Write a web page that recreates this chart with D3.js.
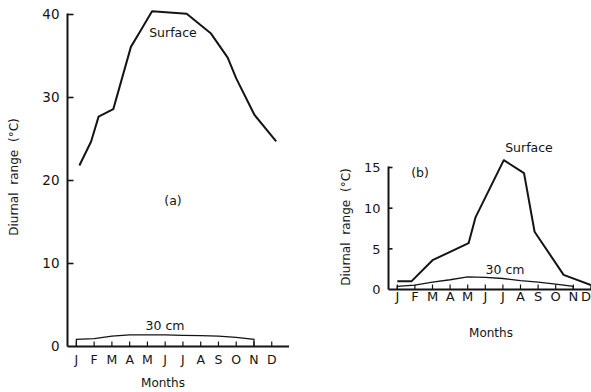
<!DOCTYPE html>
<html>
<head>
<meta charset="utf-8">
<script src="https://cdn.jsdelivr.net/npm/d3@7"></script>
<style>
  html, body { margin: 0; padding: 0; background: #fff; }
  svg { display: block; }
  text { font-family: "DejaVu Sans", "Liberation Sans", sans-serif; fill: #141414; }
</style>
</head>
<body>
<svg id="chart" width="591" height="392"></svg>
<script>
// Month initials along both x axes
const months = ["J", "F", "M", "A", "M", "J", "J", "A", "S", "O", "N", "D"];

// Panel (a): surface diurnal range, position in months (0 = Jan) and value in °C
const surfaceA_month = [0.17, 0.83, 1.25, 2.08, 3.07, 3.63, 4.26, 6.21, 7.58, 8.52, 9.0, 10.03, 11.25];
const surfaceA_value = [21.8, 24.7, 27.7, 28.6, 36.1, 38.1, 40.4, 40.1, 37.7, 34.8, 32.3, 27.9, 24.7];

// Panel (a): 30 cm depth, monthly Jan..Nov
const depthA_month = [0, 1, 2, 3, 4, 5, 6, 7, 8, 9, 10];
const depthA_value = [0.85, 0.95, 1.25, 1.4, 1.4, 1.4, 1.35, 1.3, 1.25, 1.1, 0.85];

// Panel (b): surface diurnal range
const surfaceB_month = [0, 0.8, 2.0, 4.05, 4.45, 6.05, 7.2, 7.8, 9.45, 11.0];
const surfaceB_value = [1.0, 1.0, 3.6, 5.7, 8.9, 15.9, 14.3, 7.1, 1.8, 0.55];

// Panel (b): 30 cm depth, monthly Jan..Nov
const depthB_month = [0, 1, 2, 3, 4, 5, 6, 7, 8, 9, 10];
const depthB_value = [0.4, 0.55, 0.9, 1.2, 1.55, 1.5, 1.35, 1.1, 0.9, 0.65, 0.4];

// Y tick values
const ticksA = [0, 10, 20, 30, 40];
const ticksB = [0, 5, 10, 15];

const W = 591;
const svg = d3.select("#chart");
const ink = "#141414";

function panel(cfg) {
  const g = svg.append("g");
  const x = d3.scaleLinear().domain([-0.5, 12]).range([cfg.x0, cfg.x0 + cfg.monthW * 12.5]);
  const y = d3.scaleLinear().domain(cfg.yDomain).range(cfg.yRange);

  // x baseline
  g.append("line")
    .attr("x1", cfg.x0).attr("x2", cfg.xEnd)
    .attr("y1", y(0)).attr("y2", y(0))
    .attr("stroke", ink).attr("stroke-width", 2);

  // y axis line
  g.append("line")
    .attr("x1", cfg.x0).attr("x2", cfg.x0)
    .attr("y1", y(0)).attr("y2", y(cfg.yDomain[1]) - 1)
    .attr("stroke", ink).attr("stroke-width", 2);

  // inward y ticks
  g.selectAll(".yt").data(cfg.ticks.filter(d => d > 0)).enter().append("line")
    .attr("x1", cfg.x0).attr("x2", cfg.x0 + cfg.tickLen)
    .attr("y1", d => y(d)).attr("y2", d => y(d))
    .attr("stroke", ink).attr("stroke-width", 1.6);

  g.selectAll(".yl").data(cfg.ticks).enter().append("text")
    .attr("x", cfg.x0 - 8).attr("y", d => y(d))
    .attr("dy", "0.36em").attr("text-anchor", "end")
    .attr("font-size", cfg.tickFont)
    .text(d => d);

  // small upward month ticks
  g.selectAll(".xt").data(months).enter().append("line")
    .attr("x1", (d, i) => x(i)).attr("x2", (d, i) => x(i))
    .attr("y1", y(0)).attr("y2", y(0) - 5)
    .attr("stroke", ink).attr("stroke-width", 1.2);

  // month initials, kept inside the page edge
  g.selectAll(".xl").data(months).enter().append("text")
    .attr("x", (d, i) => Math.min(x(i), W - 5)).attr("y", y(0) + cfg.monthDy)
    .attr("text-anchor", "middle").attr("font-size", cfg.monthFont)
    .text(d => d);

  const line = d3.line().x(d => x(d[0])).y(d => y(d[1]));

  // 30 cm curve, closed to the baseline at both ends
  const depth = d3.zip(cfg.depthMonth, cfg.depthValue);
  const first = depth[0], last = depth[depth.length - 1];
  const depthPath = [[first[0], 0]].concat(depth, [[last[0], 0]]);
  g.append("path").datum(depthPath)
    .attr("d", line).attr("fill", "none")
    .attr("stroke", ink).attr("stroke-width", 1.3);

  // surface curve
  g.append("path").datum(d3.zip(cfg.surfMonth, cfg.surfValue))
    .attr("d", line).attr("fill", "none")
    .attr("stroke", ink).attr("stroke-width", 2)
    .attr("stroke-linejoin", "round");

  // annotations
  g.append("text").attr("x", cfg.surfLabel[0]).attr("y", cfg.surfLabel[1])
    .attr("text-anchor", "middle").attr("dy", "0.35em").attr("font-size", 12.5)
    .text("Surface");
  g.append("text").attr("x", cfg.depthLabel[0]).attr("y", cfg.depthLabel[1])
    .attr("text-anchor", "middle").attr("dy", "0.35em").attr("font-size", 12.5)
    .text("30 cm");
  g.append("text").attr("x", cfg.tag[0]).attr("y", cfg.tag[1])
    .attr("text-anchor", "middle").attr("dy", "0.35em").attr("font-size", 12.5)
    .text(cfg.tagText);
  g.append("text").attr("x", cfg.monthsTitle[0]).attr("y", cfg.monthsTitle[1])
    .attr("text-anchor", "middle").attr("dy", "0.35em").attr("font-size", 12)
    .text("Months");
  g.append("text")
    .attr("transform", `translate(${cfg.yTitle[0]},${cfg.yTitle[1]}) rotate(-90)`)
    .attr("text-anchor", "middle").attr("dy", "0.35em").attr("font-size", 12)
    .attr("word-spacing", 4)
    .text("Diurnal range (°C)");
}

panel({
  x0: 67.5, xEnd: 289, monthW: 17.76,
  yDomain: [0, 40], yRange: [346.5, 14.5], ticks: ticksA,
  tickLen: 6, tickFont: 13.5, monthDy: 17, monthFont: 12.5,
  surfMonth: surfaceA_month, surfValue: surfaceA_value,
  depthMonth: depthA_month, depthValue: depthA_value,
  surfLabel: [173, 33], depthLabel: [165, 326], tag: [173, 201], tagText: "(a)",
  monthsTitle: [163, 383], yTitle: [14, 177]
});

panel({
  x0: 388.5, xEnd: 591, monthW: 17.6,
  yDomain: [0, 15], yRange: [289.5, 167.5], ticks: ticksB,
  tickLen: 4, tickFont: 13, monthDy: 11, monthFont: 13,
  surfMonth: surfaceB_month, surfValue: surfaceB_value,
  depthMonth: depthB_month, depthValue: depthB_value,
  surfLabel: [529, 148], depthLabel: [505, 270], tag: [420, 173], tagText: "(b)",
  monthsTitle: [491, 333], yTitle: [346, 227]
});
</script>
</body>
</html>
